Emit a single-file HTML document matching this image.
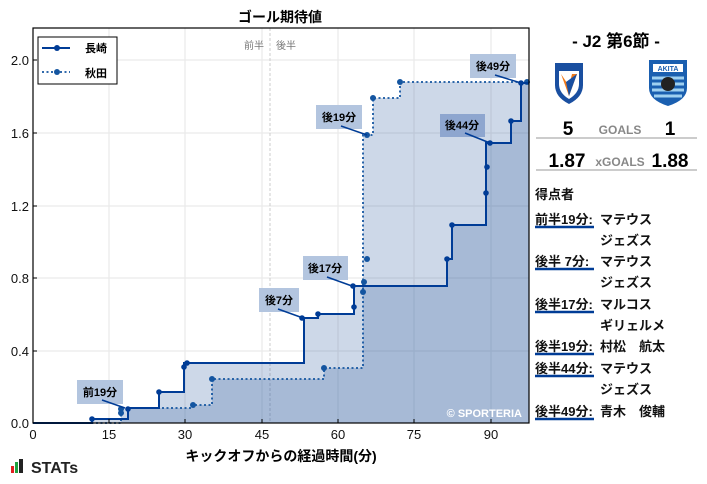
<!DOCTYPE html>
<html><head><meta charset="utf-8"><style>
body{margin:0;background:#fff;width:707px;height:479px;overflow:hidden;font-family:"Liberation Sans","Noto Sans CJK JP",sans-serif}
text{font-family:"Liberation Sans","Noto Sans CJK JP",sans-serif}
</style></head><body>
<svg width="707" height="479" xmlns="http://www.w3.org/2000/svg">
<rect width="707" height="479" fill="#fff"/>
<text x="280" y="22" font-size="14" font-weight="bold" text-anchor="middle">ゴール期待値</text>
<!-- grid -->
<g stroke="#eaeaea" stroke-width="1.2">
<line x1="109" y1="28" x2="109" y2="423"/><line x1="185" y1="28" x2="185" y2="423"/><line x1="262" y1="28" x2="262" y2="423"/><line x1="338" y1="28" x2="338" y2="423"/><line x1="414" y1="28" x2="414" y2="423"/><line x1="491" y1="28" x2="491" y2="423"/>
<line x1="33" y1="351" x2="529" y2="351"/><line x1="33" y1="278" x2="529" y2="278"/><line x1="33" y1="206" x2="529" y2="206"/><line x1="33" y1="133" x2="529" y2="133"/><line x1="33" y1="60" x2="529" y2="60"/>
</g>
<line x1="270" y1="28" x2="270" y2="423" stroke="#ccc" stroke-dasharray="3,2"/>
<text x="254" y="49" font-size="10" fill="#777" text-anchor="middle">前半</text>
<text x="286" y="49" font-size="10" fill="#777" text-anchor="middle">後半</text>
<!-- fills -->
<path d="M33,423 L121,423 L121,408 L193,408 L193,405 L212,405 L212,379 L324,379 L324,368 L363,368 L363,135 L373,135 L373,98 L400,98 L400,82 L529,82 L529,423 Z" fill="#2c5aa0" fill-opacity="0.24"/>
<path d="M33,423 L92,423 L92,419 L128,419 L128,408 L159,408 L159,392 L184,392 L184,363 L304,363 L304,318 L318,318 L318,314 L354,314 L354,286 L447,286 L447,259 L452,259 L452,225 L486,225 L486,143 L511,143 L511,121 L521,121 L521,83 L529,83 L529,423 Z" fill="#2c5aa0" fill-opacity="0.24"/>
<!-- akita line -->
<path d="M33,423 L121,423 L121,408 L193,408 L193,405 L212,405 L212,379 L324,379 L324,368 L363,368 L363,135 L373,135 L373,98 L400,98 L400,82 L529,82" fill="none" stroke="#1455a0" stroke-width="1.8" stroke-dasharray="2,2.5"/>
<g fill="#1455a0">
<circle cx="121" cy="413" r="3"/><circle cx="121" cy="409" r="3"/><circle cx="193" cy="405" r="3"/><circle cx="212" cy="379" r="3"/><circle cx="324" cy="368" r="3"/><circle cx="363" cy="292" r="3"/><circle cx="364" cy="282" r="3"/><circle cx="367" cy="259" r="3"/><circle cx="367" cy="135" r="3"/><circle cx="373" cy="98" r="3"/><circle cx="400" cy="82" r="3"/><circle cx="527" cy="82" r="3"/>
</g>
<!-- nagasaki line -->
<path d="M33,423 L92,423 L92,419 L128,419 L128,408 L159,408 L159,392 L184,392 L184,363 L304,363 L304,318 L318,318 L318,314 L354,314 L354,286 L447,286 L447,259 L452,259 L452,225 L486,225 L486,143 L511,143 L511,121 L521,121 L521,83 L529,83" fill="none" stroke="#003c96" stroke-width="2"/>
<g fill="#003c96">
<circle cx="92" cy="419" r="2.8"/><circle cx="128" cy="409" r="2.8"/><circle cx="159" cy="392" r="2.8"/><circle cx="184" cy="367" r="2.8"/><circle cx="187" cy="363" r="2.8"/><circle cx="302" cy="318" r="2.8"/><circle cx="318" cy="314" r="2.8"/><circle cx="354" cy="307" r="2.8"/><circle cx="353" cy="286" r="2.8"/><circle cx="447" cy="259" r="2.8"/><circle cx="452" cy="225" r="2.8"/><circle cx="486" cy="193" r="2.8"/><circle cx="487" cy="167" r="2.8"/><circle cx="490" cy="143" r="2.8"/><circle cx="511" cy="121" r="2.8"/><circle cx="521" cy="83" r="2.8"/>
</g>
<!-- annotations -->
<g font-size="11" font-weight="bold" text-anchor="middle">
<rect x="77" y="380" width="46" height="24" fill="#b3c5df"/><text x="100" y="396">前19分</text>
<line x1="102" y1="400" x2="125" y2="408" stroke="#003c96" stroke-width="1.5"/>
<rect x="259" y="288" width="40" height="24" fill="#b3c5df"/><text x="279" y="304">後7分</text>
<line x1="278" y1="309" x2="303" y2="318" stroke="#003c96" stroke-width="1.5"/>
<rect x="303" y="256" width="45" height="24" fill="#b3c5df"/><text x="325" y="272">後17分</text>
<line x1="327" y1="277" x2="352" y2="286" stroke="#003c96" stroke-width="1.5"/>
<rect x="316" y="105" width="46" height="24" fill="#b3c5df"/><text x="339" y="121">後19分</text>
<line x1="341" y1="126" x2="367" y2="135" stroke="#003c96" stroke-width="1.5"/>
<rect x="440" y="114" width="45" height="23" fill="#8ea6cf"/><text x="462" y="129">後44分</text>
<line x1="465" y1="133" x2="490" y2="143" stroke="#003c96" stroke-width="1.5"/>
<rect x="470" y="54" width="46" height="24" fill="#b3c5df"/><text x="493" y="70">後49分</text>
<line x1="495" y1="75" x2="521" y2="83" stroke="#003c96" stroke-width="1.5"/>
</g>
<text x="522" y="417" font-size="11" font-weight="bold" fill="#fff" text-anchor="end">© SPORTERIA</text>
<!-- frame -->
<rect x="33" y="28" width="496" height="395" fill="none" stroke="#000" stroke-width="1.2"/>
<!-- legend -->
<rect x="38" y="37" width="47" height="23" fill="#fff" stroke="#000" stroke-width="1"/>
<rect x="38" y="37" width="79" height="47" fill="#fff" stroke="#000" stroke-width="1"/>
<line x1="42" y1="48" x2="70" y2="48" stroke="#003c96" stroke-width="2"/><circle cx="57" cy="48" r="3" fill="#003c96"/>
<line x1="42" y1="72" x2="70" y2="72" stroke="#1455a0" stroke-width="1.8" stroke-dasharray="2,2.5"/><circle cx="57" cy="72" r="3" fill="#1455a0"/>
<text x="85" y="52" font-size="11" font-weight="bold">長崎</text>
<text x="85" y="77" font-size="11" font-weight="bold">秋田</text>
<!-- ticks -->
<g stroke="#000" stroke-width="1">
<line x1="109" y1="423" x2="109" y2="419"/><line x1="185" y1="423" x2="185" y2="419"/><line x1="262" y1="423" x2="262" y2="419"/><line x1="338" y1="423" x2="338" y2="419"/><line x1="414" y1="423" x2="414" y2="419"/><line x1="491" y1="423" x2="491" y2="419"/>
<line x1="33" y1="351" x2="37" y2="351"/><line x1="33" y1="278" x2="37" y2="278"/><line x1="33" y1="206" x2="37" y2="206"/><line x1="33" y1="133" x2="37" y2="133"/><line x1="33" y1="60" x2="37" y2="60"/>
</g>
<g font-size="13" text-anchor="middle" fill="#111">
<text x="33" y="439">0</text><text x="109" y="439">15</text><text x="185" y="439">30</text><text x="262" y="439">45</text><text x="338" y="439">60</text><text x="414" y="439">75</text><text x="491" y="439">90</text>
</g>
<g font-size="13" text-anchor="end" fill="#111">
<text x="29" y="428">0.0</text><text x="29" y="356">0.4</text><text x="29" y="283">0.8</text><text x="29" y="211">1.2</text><text x="29" y="138">1.6</text><text x="29" y="65">2.0</text>
</g>
<text x="281" y="461" font-size="14" font-weight="bold" text-anchor="middle">キックオフからの経過時間(分)</text>
<!-- STATS logo -->
<rect x="11" y="466" width="3" height="7" fill="#e02020"/><rect x="15" y="462" width="3" height="11" fill="#20a040"/><rect x="19" y="459" width="4" height="14" fill="#222"/>
<text x="31" y="473" font-size="16" font-weight="bold" fill="#222">STATs</text>
<!-- right panel -->
<text x="616" y="47" font-size="17" font-weight="bold" text-anchor="middle">- J2 第6節 -</text>
<!-- nagasaki crest -->
<path d="M555,63 L583,63 L583,85 Q583,97 569,104 Q555,97 555,85 Z" fill="#1a4fa0"/>
<path d="M559,71 L579,71 L579,84 Q579,93 569,99 Q559,93 559,84 Z" fill="#fff"/>
<path d="M561,74 L569,96 L577,74 L572,74 L569,86 Z" fill="#f07a1a"/>
<path d="M566,82 L569,96 L577,74 Z" fill="#1a4fa0"/>
<!-- akita crest -->
<path d="M649,60 L687,60 L687,88 Q687,100 668,106 Q649,100 649,88 Z" fill="#1a5fb0"/>
<rect x="653" y="64" width="30" height="8" fill="#fff"/>
<text x="668" y="71" font-size="7" font-weight="bold" fill="#1a5fb0" text-anchor="middle">AKITA</text>
<path d="M652,78 L684,78 M652,84 L684,84 M652,90 L684,90 M654,96 L682,96" stroke="#9fd0f0" stroke-width="3"/>
<circle cx="668" cy="84" r="7" fill="#222"/>
<!-- scores -->
<text x="568" y="135" font-size="19" font-weight="bold" text-anchor="middle">5</text>
<text x="620" y="134" font-size="12" font-weight="bold" fill="#888" text-anchor="middle">GOALS</text>
<text x="670" y="135" font-size="19" font-weight="bold" text-anchor="middle">1</text>
<line x1="536" y1="138" x2="697" y2="138" stroke="#999"/>
<text x="567" y="167" font-size="19" font-weight="bold" text-anchor="middle">1.87</text>
<text x="620" y="166" font-size="12" font-weight="bold" fill="#888" text-anchor="middle">xGOALS</text>
<text x="670" y="167" font-size="19" font-weight="bold" text-anchor="middle">1.88</text>
<line x1="536" y1="170" x2="697" y2="170" stroke="#999"/>
<g font-size="13" font-weight="bold" fill="#111">
<text x="535" y="199">得点者</text>
<text x="535" y="224">前半19分:</text><text x="600" y="224">マテウス</text>
<text x="600" y="245">ジェズス</text>
<text x="535" y="266">後半  7分:</text><text x="600" y="266">マテウス</text>
<text x="600" y="287">ジェズス</text>
<text x="535" y="309">後半17分:</text><text x="600" y="309">マルコス</text>
<text x="600" y="330">ギリェルメ</text>
<text x="535" y="351">後半19分:</text><text x="600" y="351">村松　航太</text>
<text x="535" y="373">後半44分:</text><text x="600" y="373">マテウス</text>
<text x="600" y="394">ジェズス</text>
<text x="535" y="416">後半49分:</text><text x="600" y="416">青木　俊輔</text>
</g>
<g stroke="#003c96" stroke-width="2.5">
<line x1="535" y1="227" x2="594" y2="227"/><line x1="535" y1="269" x2="594" y2="269"/><line x1="535" y1="312" x2="594" y2="312"/><line x1="535" y1="354" x2="594" y2="354"/><line x1="535" y1="376" x2="594" y2="376"/><line x1="535" y1="419" x2="594" y2="419"/>
</g>
</svg>
</body></html>
